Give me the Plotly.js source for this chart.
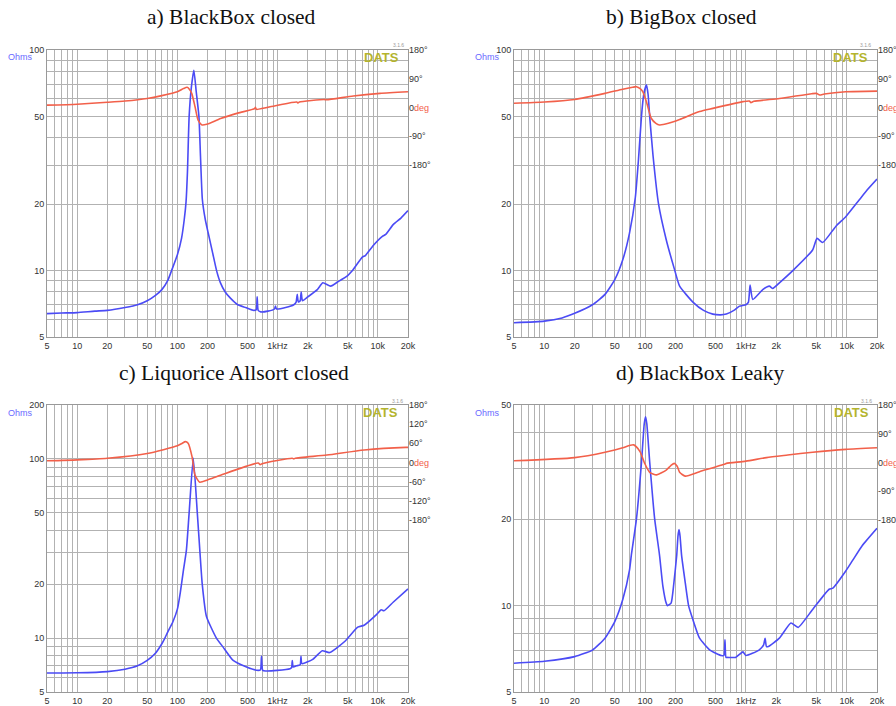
<!DOCTYPE html>
<html><head><meta charset="utf-8">
<script src="https://cdn.plot.ly/plotly-3.0.1.min.js"></script>
<style>html,body{margin:0;padding:0;background:#fff;} #chart{width:896px;height:706px;}</style>
</head><body><div id="chart"></div>
<script>
// ---------- tick labels ----------
const xTickVals = [5,6,7,8,9,10,20,30,40,50,60,70,80,90,100,200,300,400,500,600,700,800,900,1000,2000,3000,4000,5000,6000,7000,8000,9000,10000,20000];
const xTickText = ['5','','','','','10','20','','','50','','','','','100','200','','','500','','','','','1kHz','2k','','','5k','','','','','10k','20k'];
const yTickVals100 = [5,6,7,8,9,10,20,30,40,50,60,70,80,90,100];
const yTickText100 = ['5','','','','','10','20','','','50','','','','','100'];
const yTickVals200 = [5,6,7,8,9,10,20,30,40,50,60,70,80,90,100,200];
const yTickText200 = ['5','','','','','10','20','','','50','','','','','100','200'];
const yTickVals50 = [5,6,7,8,9,10,20,30,40,50];
const yTickText50 = ['5','','','','','10','20','','','50'];
const phTickVals90 = [-180,-90,0,90,180];
const phTickText90 = ['-180°','-90°','0<span style="color:#f2604a">deg</span>','90°','180°'];
const phTickVals60 = [-180,-120,-60,0,60,120,180];
const phTickText60 = ['-180°','-120°','-60°','0<span style="color:#f2604a">deg</span>','60°','120°','180°'];
const titles = ['a) BlackBox closed','b) BigBox closed','c) Liquorice Allsort closed','d) BlackBox Leaky'];

// ---------- a) BlackBox closed ----------
const fA = [5,7,10,15,20,30,40,50,60,70,80,87.5,100,110,117,122,126,131,138,146,154,
            164,170,177.5,190,203,225,246,269,300,338,400,480,578,612,625,640,680,800,930,952,
            975,1200,1450,1530,1570,1610,1680,1720,1770,2000,2490,2830,3380,4000,5000,5580,7000,7500,9000,11100,
            12000,14300,17000,20000];
const zA = [6.38,6.42,6.45,6.55,6.6,6.8,7.0,7.3,7.7,8.2,9.0,10,11.8,14,17,20.5,28,50,68,81,65,
            50,33,21,17,14.8,12,10,8.8,8.0,7.5,7.0,6.8,6.6,6.65,7.6,6.6,6.5,6.55,6.7,6.9,
            6.7,6.8,7.0,7.2,7.8,7.2,7.3,8.0,7.3,7.6,8.2,8.8,8.5,8.9,9.5,10,11.5,11.7,13,14.3,
            14.6,16.2,17.3,18.7];
const pfA = [5,10,20,30,50,70,100,115,125,131,139,150,161,176,196,270,400,590,600,615,
             1000,1550,1600,1650,2900,3100,5700,10500,20000];
const pA  = [7,10,16,20,28,37,49,59,63,58,44,2,-40,-55,-53,-35,-18,-4,0,-6,
             7,17,14,17,25,24,36,44,49];

// ---------- b) BigBox closed ----------
const fB = [5,10,15,20,30,40,50,60,70,80,86,92,97,103,107,111,120,136,162,196,
            220,298,380,470,560,640,760,865,1000,1060,1100,1170,1470,1710,1850,2150,2920,4590,5080,5780,
            7830,9840,13300,16100,20000];
const zB = [5.8,5.9,6.1,6.4,7.0,7.8,9.1,11.2,14.8,21.5,32,50,63,69.5,63,50,33,20,13.8,10.1,
            8.5,7.2,6.6,6.35,6.3,6.35,6.6,6.9,7.0,7.2,8.6,7.4,8.2,8.5,8.3,8.8,10,12.4,14.0,13.4,
            15.9,17.6,20.9,23.3,26];
const pfB = [5,10,20,40,60,75,82,90,95,103,115,128,139,170,220,347,470,940,1080,1120,
             1200,2150,4500,5000,5400,6000,9800,20000];
const pB  = [13,17,25,44,57,63,65,58,49,18,-34,-50,-55,-50,-38,-13,-3,18,20,15,
             19,28,43,44,39,42,49,51];

// ---------- c) Liquorice Allsort closed ----------
const fC = [5,10,20,30,40,50,60,70,75,80,90,100,107,115,123,131,144,158,168,177,195,
            245,286,360,490,640,675,690,710,760,990,1330,1380,1400,1430,1550,1680,1710,1750,2240,2790,
            3300,4700,6300,7300,9800,10800,11500,14300,20000];
const zC = [6.38,6.4,6.5,6.7,7.0,7.5,8.2,9.3,10,10.8,12.3,14.5,18,24,31,50,101,50,30,20,13.2,
            10,8.9,7.5,6.9,6.6,6.65,7.9,6.6,6.55,6.6,6.75,6.85,7.5,6.9,7.0,7.1,7.9,7.2,7.6,8.5,
            8.3,9.6,11.5,11.8,13.6,14.4,14.2,15.9,18.8];
const pfC = [5,10,20,50,100,112,120,128,140,150,167,200,270,640,670,700,1400,1450,1500,3100,
             7300,19000,20000];
const pC  = [5,8,13,28,52,60,65,60,18,-40,-62,-55,-40,-2,-7,-4,13,11,13,23,
             39,47,47];

// ---------- d) BlackBox Leaky ----------
const fD = [5,10,20,30,40,50,60,70,73,82,92,98,101,104,111,124.5,139,150,162,167,
            181,193,206,212,217,222,230,248,270,296,347,440,570,605,620,635,660,790,935,1000,
            1350,1500,1550,1600,1670,2150,2800,3300,4600,6700,7300,9800,11500,14300,20000];
const zD = [6.3,6.4,6.64,7.0,7.7,8.8,10.5,13.3,15,20,31.5,43,45.5,43,31.7,20,15,11.7,10.2,10.0,
            10.2,12,15,17.5,18.4,17.5,15,12.3,10,9.0,7.7,7.0,6.7,6.7,7.6,6.6,6.6,6.6,6.9,6.7,
            7.0,7.3,7.7,7.2,7.2,7.7,8.7,8.4,9.7,11.4,11.5,13.2,14.4,16.2,18.6];
const pfD = [5,20,40,60,77,89,99,111,130,162,180,195,208,220,250,347,620,640,1000,1600,
             2600,4600,9800,20000];
const pD  = [5,15,32,46,55,34,-3,-31,-39,-24,-10,-3,-12,-31,-43,-29,-5,-3,4,15,
             23,32,41,46];

// ---------- styling / layout ----------
const W = 896, H = 706;
const px = v => v / W;
const py = v => 1 - v / H;
const BLUE = '#4b4bf5', RED = '#f2604a', GRID = '#b2b2b2', LINE = '#999999';
const TF = {family:'Liberation Sans, Arial, sans-serif', size:9, color:'#333'};

function xAx(x0, x1, anchor){
  return {domain:[px(x0), px(x1)], anchor:anchor, type:'log',
    range:[Math.log10(5), Math.log10(20000)], tickvals:xTickVals, ticktext:xTickText,
    showgrid:true, gridcolor:GRID, gridwidth:1, showline:true, linecolor:LINE, mirror:true,
    ticks:'', tickfont:TF, zeroline:false, fixedrange:true};
}
function yAx(y0, y1, anchor, maxV, vals, text){
  return {domain:[py(y1), py(y0)], anchor:anchor, type:'log',
    range:[Math.log10(5), Math.log10(maxV)], tickvals:vals, ticktext:text,
    showgrid:true, gridcolor:GRID, gridwidth:1, showline:true, linecolor:LINE, mirror:true,
    ticks:'', tickfont:TF, zeroline:false, fixedrange:true};
}
function pAx(over, anchor, vals, text){
  return {overlaying:over, anchor:anchor, side:'right', range:[-720,180],
    tickvals:vals, ticktext:text, showgrid:false, zeroline:false, showline:false,
    ticks:'', ticklabelstandoff:0, tickfont:TF, fixedrange:true};
}

const panels = [
  {f:fA, z:zA, pf:pfA, p:pA, xa:'x',  ya:'y',  pa:'y2'},
  {f:fB, z:zB, pf:pfB, p:pB, xa:'x2', ya:'y3', pa:'y4'},
  {f:fC, z:zC, pf:pfC, p:pC, xa:'x3', ya:'y5', pa:'y6'},
  {f:fD, z:zD, pf:pfD, p:pD, xa:'x4', ya:'y7', pa:'y8'}
];
const traces = [];
panels.forEach(P => {
  traces.push({x:P.pf, y:P.p, xaxis:P.xa, yaxis:P.pa, type:'scatter', mode:'lines',
    line:{color:RED, width:1.6, shape:'spline', smoothing:0.6}, hoverinfo:'skip'});
  traces.push({x:P.f, y:P.z, xaxis:P.xa, yaxis:P.ya, type:'scatter', mode:'lines',
    line:{color:BLUE, width:1.6, shape:'spline', smoothing:0.5}, hoverinfo:'skip'});
});

const TOP = [50, 337], BOT = [405, 692];
const LX = [47, 408], RX = [514, 877];

function ann(text, x, y, font, xanchor){
  return {text:text, xref:'paper', yref:'paper', x:px(x), y:py(y), showarrow:false,
    xanchor:xanchor||'center', yanchor:'middle', font:font};
}
const titleFont = {family:'Liberation Serif, Times New Roman, serif', size:21.5, color:'#111'};
const ohmsFont = {family:'Liberation Sans, Arial, sans-serif', size:9, color:'#6a6aff'};
const datsFont = {family:'Liberation Sans, Arial, sans-serif', size:13, color:'#b4b42d'};
const verFont = {family:'Liberation Sans, Arial, sans-serif', size:5, color:'#999'};

const annotations = [
  ann(titles[0], 231, 17, titleFont), ann(titles[1], 681, 17, titleFont),
  ann(titles[2], 234, 373, titleFont), ann(titles[3], 700, 373, titleFont),
  ann('Ohms', 20, 57, ohmsFont), ann('Ohms', 488, 57, ohmsFont),
  ann('Ohms', 20, 413, ohmsFont), ann('Ohms', 488, 413, ohmsFont),
  ann('<b>DATS</b>', 381, 57, datsFont), ann('<b>DATS</b>', 850, 57, datsFont),
  ann('<b>DATS</b>', 380, 413, datsFont), ann('<b>DATS</b>', 851, 412, datsFont),
  ann('3.1.6', 398, 45, verFont), ann('3.1.6', 865, 45, verFont),
  ann('3.1.6', 397, 401, verFont), ann('3.1.6', 866, 401, verFont)
];

const layout = {
  width:W, height:H, paper_bgcolor:'#fff', plot_bgcolor:'#fff',
  margin:{l:0, r:0, t:0, b:0, autoexpand:false}, showlegend:false,
  font:{family:'Liberation Sans, Arial, sans-serif', size:9, color:'#333'},
  xaxis:  xAx(LX[0], LX[1], 'y'),
  yaxis:  yAx(TOP[0], TOP[1], 'x', 100, yTickVals100, yTickText100),
  yaxis2: pAx('y', 'x', phTickVals90, phTickText90),
  xaxis2: xAx(RX[0], RX[1], 'y3'),
  yaxis3: yAx(TOP[0], TOP[1], 'x2', 100, yTickVals100, yTickText100),
  yaxis4: pAx('y3', 'x2', phTickVals90, phTickText90),
  xaxis3: xAx(LX[0], LX[1], 'y5'),
  yaxis5: yAx(BOT[0], BOT[1], 'x3', 200, yTickVals200, yTickText200),
  yaxis6: pAx('y5', 'x3', phTickVals60, phTickText60),
  xaxis4: xAx(RX[0], RX[1], 'y7'),
  yaxis7: yAx(BOT[0], BOT[1], 'x4', 50, yTickVals50, yTickText50),
  yaxis8: pAx('y7', 'x4', phTickVals90, phTickText90),
  annotations:annotations, hovermode:false
};
Plotly.newPlot('chart', traces, layout, {staticPlot:true, displayModeBar:false});
</script>
</body></html>
